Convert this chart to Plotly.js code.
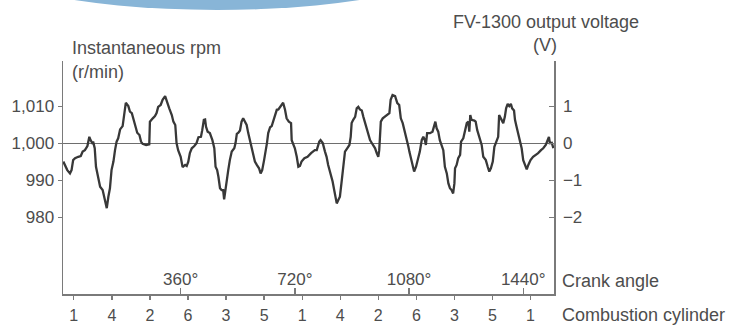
<!DOCTYPE html>
<html>
<head>
<meta charset="utf-8">
<script src="https://cdn.plot.ly/plotly-3.0.1.min.js"></script>
<style>html,body{margin:0;padding:0;background:#fff}#chart{width:735px;height:325px}</style>
</head>
<body>
<div id="chart"></div>
<script>
// Crank angle (degrees) of each traced sample
const crankAngle = [-10,2.5,11,16,21,27,37,45,51,58,66,72,76,81,84,89,93,100,106,114,121,127,132,137,142,148,153,158,163,169,177,181,187,195,200,206,211,217,223,230,235,240,251,261,263,272,279,284,289,297,303,311,318,324,332,337,343,347,352,360,366,374,379,384,389,395,403,410,416,424,428,433,437,440,445,452,460,466,470,475,479,484,489,494,497,502,505,510,515,521,529,533,537,542,547,552,557,563,568,573,579,584,589,594,600,607,612,617,623,628,632,636,642,647,652,657,663,668,673,678,683,689,694,701,708,710,715,720,726,731,736,741,750,760,771,783,789,797,801,808,815,820,825,833,839,844,849,852,857,862,868,873,878,885,892,896,899,904,910,915,920,925,931,936,941,946,951,957,962,967,973,978,983,986,988,991,997,1004,1011,1018,1022,1028,1036,1043,1049,1054,1060,1067,1073,1078,1081,1085,1091,1096,1102,1109,1114,1120,1125,1130,1133,1137,1146,1154,1159,1163,1167,1172,1177,1183,1188,1193,1199,1204,1209,1214,1219,1223,1225,1230,1235,1241,1244,1251,1256,1262,1267,1270,1273,1277,1286,1290,1295,1301,1309,1314,1322,1328,1333,1338,1344,1349,1354,1361,1364,1370,1377,1382,1386,1391,1396,1401,1405,1411,1414,1419,1424,1430,1435,1440,1445,1451,1456,1463,1471,1480,1487,1496,1503,1511,1516,1521,1524,1530,1535];
// Instantaneous rpm (r/min)
const rpm = [995.1,992.8,991.9,992.8,995.5,996.0,996.4,996.6,997.8,998.2,999.3,1001.8,1000.9,1000.2,1000.5,998.7,993.7,991.0,988.3,987.4,984.7,982.5,985.6,987.9,992.8,995.1,998.2,1000.5,1001.4,1003.8,1004.7,1007.7,1011.0,1010.1,1008.6,1008.2,1006.4,1004.5,1002.9,1002.3,1000.5,999.9,999.6,999.8,1005.9,1006.8,1007.4,1008.2,1009.9,1010.4,1011.8,1012.8,1011.3,1009.5,1007.7,1005.9,1005.0,1000.1,998.2,996.4,993.6,994.2,993.9,995.1,997.4,998.7,999.3,1000.1,1001.7,1001.8,1003.6,1006.4,1006.5,1004.5,1003.2,1002.8,1000.9,998.7,993.7,992.8,991.0,987.9,987.4,987.4,984.9,988.3,991.0,992.8,995.5,997.8,998.7,1000.1,1002.6,1002.9,1003.5,1005.9,1006.8,1005.6,1005.0,1002.8,1000.5,999.1,997.4,995.1,994.2,993.3,991.9,992.8,995.5,997.8,1000.1,1002.8,1004.4,1004.7,1005.9,1007.7,1009.1,1009.2,1009.9,1010.4,1011.0,1009.1,1006.8,1005.9,1005.5,1000.9,999.6,998.7,996.4,993.7,993.9,995.1,996.0,996.4,997.4,998.2,998.2,1000.5,1000.9,1000.1,997.8,996.4,994.2,991.9,989.7,987.4,985.2,983.8,984.7,985.6,990.1,994.6,997.8,998.7,999.6,1001.8,1005.5,1006.4,1007.2,1009.5,1009.9,1009.2,1008.9,1007.2,1005.5,1004.1,1002.8,1000.9,1000.2,999.6,998.7,997.4,996.4,998.2,1001.8,1005.9,1006.8,1007.2,1007.7,1008.2,1011.8,1013.1,1012.8,1010.9,1010.4,1006.8,1005.5,1003.2,1001.4,999.1,997.8,996.4,993.7,992.4,993.7,996.0,997.8,1000.9,1001.8,1000.9,999.6,1002.8,1002.8,1003.2,1004.5,1005.9,1004.1,1003.2,1000.9,999.6,998.2,993.7,991.9,989.2,987.9,987.4,986.5,989.2,993.3,994.2,996.0,996.9,1000.5,1001.4,1003.6,1005.5,1005.9,1003.2,1007.7,1006.4,1006.2,1005.9,1003.6,1001.8,999.6,996.4,995.5,993.7,992.4,993.3,995.1,999.1,1000.5,1001.8,1007.7,1006.8,1005.5,1007.2,1009.5,1010.7,1010.1,1010.7,1009.5,1008.9,1006.4,1004.5,1002.8,1000.9,998.7,995.5,994.2,993.0,994.2,995.5,996.4,996.9,997.4,998.2,998.7,999.6,1000.9,1001.8,1000.1,1000.2,998.7];

const rpmTicks = [980, 990, 1000, 1010];
const rpmTickLabels = ['980', '990', '1,000', '1,010'];
const voltTicks = [-2, -1, 0, 1];
const crankTicks = [360, 720, 1080, 1440];
const crankTickLabels = ['360°', '720°', '1080°', '1440°'];
const cylinderAngles = [23, 143, 263, 383, 503, 623, 743, 863, 983, 1103, 1223, 1343, 1463];
const cylinderLabels = ['1', '4', '2', '6', '3', '5', '1', '4', '2', '6', '3', '5', '1'];

const rpmRange = [959.3, 1022.3];
const voltRange = [(rpmRange[0] - 1000) / 10, (rpmRange[1] - 1000) / 10];
const xRange = [-11, 1537];

const FONT = 'Liberation Sans, Arial, sans-serif';
const TXT = '#4d4d4d';
const AX = '#7a7a7a';

const traces = [
  {x: crankAngle, y: rpm, type: 'scatter', mode: 'lines',
   line: {color: '#383838', width: 2.3, shape: 'linear'}, hoverinfo: 'skip', showlegend: false},
  {x: [], y: [], xaxis: 'x2', yaxis: 'y2', type: 'scatter', mode: 'lines', showlegend: false}
];

const layout = {
  width: 735, height: 325,
  margin: {l: 63, r: 181, t: 61, b: 31, pad: 0},
  paper_bgcolor: '#ffffff', plot_bgcolor: '#ffffff',
  font: {family: FONT, size: 17, color: TXT},
  showlegend: false,
  xaxis: {
    range: xRange, showgrid: false, zeroline: false,
    showline: true, linecolor: AX, linewidth: 1.5,
    ticks: 'inside', ticklen: 6, tickwidth: 1.3, tickcolor: AX,
    tickvals: crankTicks, ticktext: crankTickLabels,
    ticklabelposition: 'inside', tickfont: {size: 17, color: TXT}
  },
  xaxis2: {
    overlaying: 'x', anchor: 'y', side: 'bottom',
    range: xRange, showgrid: false, zeroline: false, showline: false,
    ticks: 'outside', ticklen: 5, tickwidth: 1.3, tickcolor: AX,
    tickvals: cylinderAngles, ticktext: cylinderLabels,
    ticklabelstandoff: 2, tickfont: {size: 16, color: TXT}
  },
  yaxis: {
    range: rpmRange, showgrid: false, zeroline: false,
    showline: true, linecolor: AX, linewidth: 1.5,
    ticks: 'outside', ticklen: 4, tickwidth: 1.3, tickcolor: AX,
    tickvals: rpmTicks, ticktext: rpmTickLabels, tickfont: {size: 17, color: TXT}
  },
  yaxis2: {
    overlaying: 'y', side: 'right', anchor: 'x',
    range: voltRange, showgrid: false,
    zeroline: true, zerolinecolor: '#6e6e6e', zerolinewidth: 1.5,
    showline: true, linecolor: AX, linewidth: 1.5,
    ticks: 'inside', ticklen: 5, tickwidth: 1.3, tickcolor: AX,
    ticklabelstandoff: 4,
    tickvals: voltTicks, tickfont: {size: 17, color: TXT}
  },
  shapes: [
    {type: 'circle', xref: 'paper', yref: 'paper', layer: 'below',
     x0: -0.2118, x1: 0.8391, y0: 1.2189, y1: 1.734,
     fillcolor: '#88b5d7', line: {width: 0}}
  ],
  annotations: [
    {text: 'Instantaneous rpm', xref: 'paper', yref: 'paper', x: 0.0143, y: 1.0558,
     xanchor: 'left', yanchor: 'middle', showarrow: false, font: {size: 18, color: TXT}},
    {text: '(r/min)', xref: 'paper', yref: 'paper', x: 0.0143, y: 0.9528,
     xanchor: 'left', yanchor: 'middle', showarrow: false, font: {size: 18, color: TXT}},
    {text: 'FV-1300 output voltage', xref: 'paper', yref: 'paper', x: 0.9837, y: 1.1674,
     xanchor: 'center', yanchor: 'middle', showarrow: false, font: {size: 18, color: TXT}},
    {text: '(V)', xref: 'paper', yref: 'paper', x: 0.9817, y: 1.0687,
     xanchor: 'center', yanchor: 'middle', showarrow: false, font: {size: 18, color: TXT}},
    {text: 'Crank angle', xref: 'paper', yref: 'paper', x: 1.0122, y: 0.0558,
     xanchor: 'left', yanchor: 'middle', showarrow: false, font: {size: 18, color: TXT}},
    {text: 'Combustion cylinder', xref: 'paper', yref: 'paper', x: 1.0122, y: -0.0915,
     xanchor: 'left', yanchor: 'middle', showarrow: false, font: {size: 18, color: TXT}}
  ]
};

Plotly.newPlot('chart', traces, layout, {staticPlot: true, displayModeBar: false});
</script>
</body>
</html>
